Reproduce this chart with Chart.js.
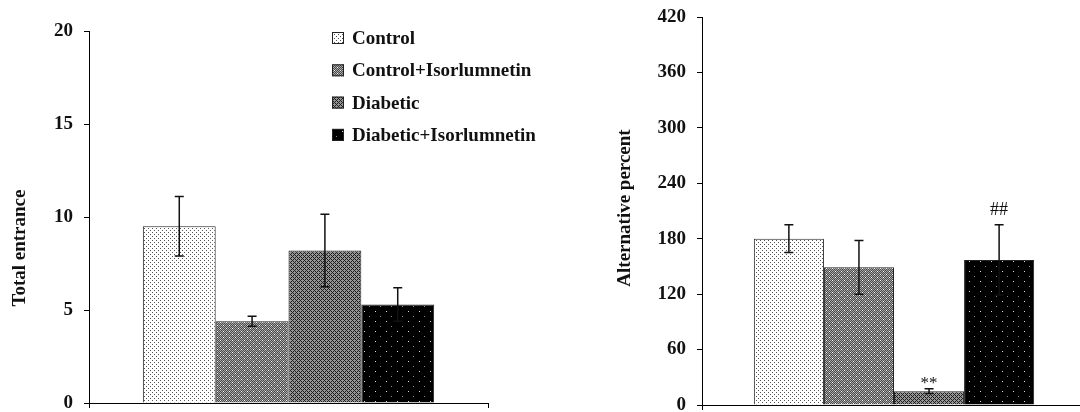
<!DOCTYPE html>
<html>
<head>
<meta charset="utf-8">
<title>Total entrance / Alternative percent</title>
<script src="https://cdn.jsdelivr.net/npm/chart.js@4.4.1/dist/chart.umd.min.js"></script>
<style>
    html, body { margin: 0; padding: 0; background: #fff; overflow: hidden; }
    #wrap { position: relative; width: 1080px; height: 412px; overflow: hidden; }
    canvas { position: absolute; top: 0; left: 0; }
</style>
</head>
<body>
<div id="wrap">
    <canvas id="entranceChart" width="1080" height="412"></canvas>
    <canvas id="alternationChart" width="1100" height="412"></canvas>
</div>
<script>
// Data
const groups = ['Control', 'Control+Isorlumnetin', 'Diabetic', 'Diabetic+Isorlumnetin'];
const totalEntrance = [9.5, 4.4, 8.2, 5.3];
const totalEntranceErr = [1.6, 0.27, 1.95, 0.9];
const alternativePercent = [180, 149, 15, 157];
const alternativePercentErr = [15, 29, 2.5, 38];
const alternativeMarks = ['', '', '**', '##'];
const entranceTicks = [0, 5, 10, 15, 20];
const percentTicks = [0, 60, 120, 180, 240, 300, 360, 420];

const SERIF = "'Liberation Serif', 'Times New Roman', serif";
const INK = '#111';

document.addEventListener('DOMContentLoaded', function() {
    buildBarChart('entranceChart', totalEntrance, totalEntranceErr, {
        ticks: entranceTicks,
        area: { left: 89, right: 488, top: 31, bottom: 403 },
        title: 'Total entrance',
        titleAt: [20, 248],
        legend: true
    });
    buildBarChart('alternationChart', alternativePercent, alternativePercentErr, {
        ticks: percentTicks,
        area: { left: 702, right: 1086, top: 17, bottom: 405 },
        title: 'Alternative percent',
        titleAt: [625, 208],
        marks: alternativeMarks
    });
});

/**
 * Hatch-like fills (one per group), built from small tiles
 */
function makePatterns(ctx) {
    function tile(w, h, draw) {
        const c = document.createElement('canvas');
        c.width = w;
        c.height = h;
        const g = c.getContext('2d');
        draw(g);
        return ctx.createPattern(c, 'repeat');
    }

    return [
        // Control : fine stipple on white
        tile(4, 4, function(g) {
            g.fillStyle = '#fff';
            g.fillRect(0, 0, 4, 4);
            g.fillStyle = '#555';
            g.fillRect(0, 0, 1, 1);
            g.fillRect(2, 2, 1, 1);
        }),
        // Control+Isorlumnetin : grey checker with white dots
        tile(6, 6, function(g) {
            for (let x = 0; x < 6; x++) {
                for (let y = 0; y < 6; y++) {
                    g.fillStyle = (x + y) % 2 ? '#4a4a4a' : '#a8a8a8';
                    g.fillRect(x, y, 1, 1);
                }
            }
            g.fillStyle = '#fff';
            g.fillRect(1, 1, 1, 1);
            g.fillRect(4, 4, 1, 1);
        }),
        // Diabetic : dark diagonal lattice
        tile(4, 4, function(g) {
            for (let x = 0; x < 4; x++) {
                for (let y = 0; y < 4; y++) {
                    const dark = (x + y) % 4 === 0 || (x - y + 4) % 4 === 0;
                    g.fillStyle = dark ? '#1e1e1e' : '#959595';
                    g.fillRect(x, y, 1, 1);
                }
            }
        }),
        // Diabetic+Isorlumnetin : black with sparse light dots
        tile(11, 10, function(g) {
            g.fillStyle = '#000';
            g.fillRect(0, 0, 11, 10);
            g.fillStyle = '#ddd';
            g.fillRect(1, 1, 1, 1);
            g.fillStyle = '#888';
            g.fillRect(6, 6, 1, 1);
        })
    ];
}

/**
 * One bar chart with error bars, drawn on its own canvas
 */
function buildBarChart(canvasId, values, errors, opts) {
    const canvas = document.getElementById(canvasId);
    const ctx = canvas.getContext('2d');
    const patterns = makePatterns(ctx);
    const area = opts.area;
    const ticks = opts.ticks;

    const datasets = groups.map(function(name, i) {
        return {
            label: name,
            data: [values[i]],
            backgroundColor: patterns[i],
            borderColor: '#222',
            borderWidth: 1,
            categoryPercentage: 0.73,
            barPercentage: 1
        };
    });

    // Error bars, significance marks, axis title and legend
    const decorations = {
        id: 'decorations',
        afterDatasetsDraw: function(chart) {
            const c = chart.ctx;
            const y = chart.scales.y;
            c.save();
            c.strokeStyle = INK;
            c.lineWidth = 1.5;

            chart.data.datasets.forEach(function(ds, i) {
                const bar = chart.getDatasetMeta(i).data[0];
                const v = ds.data[0];
                const top = y.getPixelForValue(v + errors[i]);
                const bot = y.getPixelForValue(v - errors[i]);
                c.beginPath();
                c.moveTo(bar.x, top);
                c.lineTo(bar.x, bot);
                c.moveTo(bar.x - 4.5, top);
                c.lineTo(bar.x + 4.5, top);
                c.moveTo(bar.x - 4.5, bot);
                c.lineTo(bar.x + 4.5, bot);
                c.stroke();

                if (opts.marks && opts.marks[i]) {
                    const mark = opts.marks[i];
                    c.fillStyle = INK;
                    c.textAlign = 'center';
                    c.textBaseline = 'alphabetic';
                    if (mark.indexOf('*') >= 0) {
                        c.font = '17px ' + SERIF;
                        c.fillText(mark, bar.x, top - 1);
                    } else {
                        c.font = '18px ' + SERIF;
                        c.fillText(mark, bar.x, top - 10);
                    }
                }
            });

            // Axis title
            c.fillStyle = INK;
            c.font = 'bold 19px ' + SERIF;
            c.textAlign = 'center';
            c.textBaseline = 'middle';
            c.translate(opts.titleAt[0], opts.titleAt[1]);
            c.rotate(-Math.PI / 2);
            c.fillText(opts.title, 0, 0);
            c.restore();

            if (opts.legend) {
                drawLegend(c, chart);
            }
        }
    };

    return new Chart(canvas, {
        type: 'bar',
        data: {
            labels: [''],
            datasets: datasets
        },
        options: {
            responsive: false,
            animation: false,
            layout: {
                padding: { left: 0, right: canvas.width - area.right, top: area.top, bottom: 0 }
            },
            plugins: {
                legend: { display: false },
                tooltip: { enabled: false }
            },
            scales: {
                x: {
                    afterFit: function(scale) { scale.height = canvas.height - area.bottom; },
                    border: { color: '#000', width: 1 },
                    grid: { drawOnChartArea: false, drawTicks: true, tickLength: 5, color: '#000', offset: true },
                    ticks: { display: false }
                },
                y: {
                    min: ticks[0],
                    max: ticks[ticks.length - 1],
                    afterBuildTicks: function(scale) {
                        scale.ticks = ticks.map(function(v) { return { value: v }; });
                    },
                    afterFit: function(scale) {
                        // the plot box is placed by hand, labels may overhang it
                        scale.width = area.left;
                        scale.paddingTop = 0;
                        scale.paddingBottom = 0;
                    },
                    border: { color: '#000', width: 1 },
                    grid: { drawOnChartArea: false, drawTicks: true, tickLength: 5, color: '#000' },
                    ticks: {
                        padding: 11,
                        color: INK,
                        font: { family: SERIF, weight: 'bold', size: 19 }
                    }
                }
            }
        },
        plugins: [decorations]
    });
}

/**
 * Legend in the upper part of the left plot
 */
function drawLegend(c, chart) {
    c.save();
    c.font = 'bold 19px ' + SERIF;
    c.textAlign = 'left';
    c.textBaseline = 'middle';
    chart.data.datasets.forEach(function(ds, i) {
        const cy = 38 + i * 32.3;
        c.fillStyle = ds.backgroundColor;
        c.fillRect(332, cy - 6, 12, 12);
        c.strokeStyle = '#222';
        c.lineWidth = 1;
        c.strokeRect(332.5, cy - 5.5, 11, 11);
        c.fillStyle = INK;
        c.fillText(ds.label, 352, cy + 1);
    });
    c.restore();
}
</script>
</body>
</html>
